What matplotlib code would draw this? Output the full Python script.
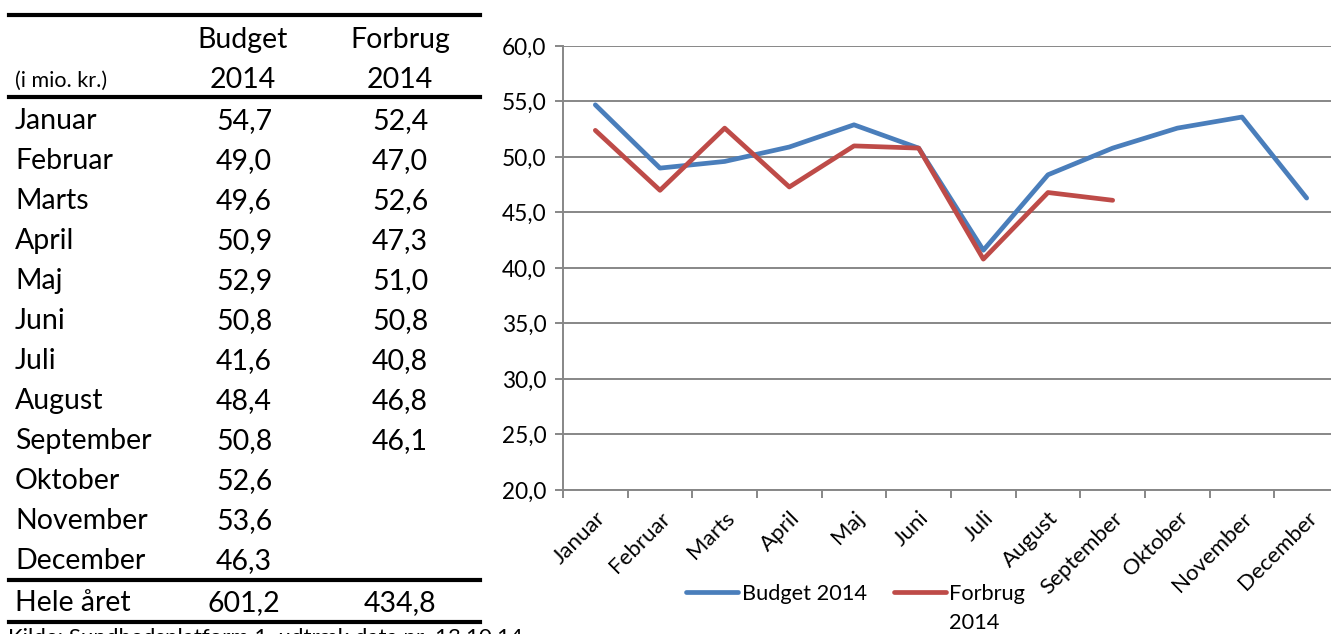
import matplotlib
matplotlib.use("Agg")
import matplotlib.pyplot as plt
from matplotlib.lines import Line2D

plt.rcParams["font.family"] = ["Lato", "DejaVu Sans"]

months = ["Januar", "Februar", "Marts", "April", "Maj", "Juni", "Juli",
          "August", "September", "Oktober", "November", "December"]
budget = [54.7, 49.0, 49.6, 50.9, 52.9, 50.8, 41.6, 48.4, 50.8, 52.6, 53.6, 46.3]
forbrug = [52.4, 47.0, 52.6, 47.3, 51.0, 50.8, 40.8, 46.8, 46.1]
total_budget = 601.2
total_forbrug = 434.8
yticks = [20, 25, 30, 35, 40, 45, 50, 55, 60]

W, H = 1331, 634
BLUE = "#4A7EBB"
RED = "#BE4B48"
GRID = "#878787"


def fx(px):
    return px / W


def fy(py):
    return 1 - py / H


def fmt(v):
    return f"{v:.1f}".replace(".", ",")


fig = plt.figure(figsize=(W / 100, H / 100), dpi=100)

# --- table on the left ---
for py in (15, 97, 580, 622):
    fig.add_artist(Line2D([fx(9), fx(480)], [fy(py), fy(py)], color="black", linewidth=3.0))

fs = 20.5
fig.text(fx(243), fy(40), "Budget", ha="center", va="center", fontsize=fs)
fig.text(fx(243), fy(80), "2014", ha="center", va="center", fontsize=fs)
fig.text(fx(400), fy(40), "Forbrug", ha="center", va="center", fontsize=fs)
fig.text(fx(400), fy(80), "2014", ha="center", va="center", fontsize=fs)
fig.text(fx(15), fy(81), "(i mio. kr.)", ha="left", va="center", fontsize=15.5)

for i, m in enumerate(months):
    py = 121 + i * 40
    fig.text(fx(15), fy(py), m, ha="left", va="center", fontsize=fs)
    fig.text(fx(244), fy(py), fmt(budget[i]), ha="center", va="center", fontsize=fs)
    if i < len(forbrug):
        fig.text(fx(400), fy(py), fmt(forbrug[i]), ha="center", va="center", fontsize=fs)

fig.text(fx(15), fy(603), "Hele året", ha="left", va="center", fontsize=fs)
fig.text(fx(244), fy(603), fmt(total_budget), ha="center", va="center", fontsize=fs)
fig.text(fx(400), fy(603), fmt(total_forbrug), ha="center", va="center", fontsize=fs)
# source line, cut off by the bottom edge as in the original
fig.text(fx(8), fy(628), "Kilde: Sundhedsplatform 1. udtræk data pr. 13.10.14",
         ha="left", va="top", fontsize=16)

# --- line chart on the right ---
ax = fig.add_axes([fx(563), fy(490), fx(1339) - fx(563), fy(46) - fy(490)])
x = list(range(len(months)))
lb, = ax.plot(x, budget, color=BLUE, linewidth=3.4, solid_capstyle="round", label="Budget 2014")
lf, = ax.plot(x[:len(forbrug)], forbrug, color=RED, linewidth=3.4, solid_capstyle="round",
              label="Forbrug")

ax.set_xlim(-0.5, len(months) - 0.5)
ax.set_ylim(20, 60)
ax.set_yticks(yticks)
ax.set_yticklabels([fmt(v) for v in yticks], fontsize=16.3)
ax.yaxis.grid(True, color=GRID, linewidth=1.4)
ax.set_axisbelow(True)

ax.set_xticks([i - 0.5 for i in range(len(months) + 1)])
ax.set_xticklabels([])
ax.set_xticks(x, minor=True)
ax.set_xticklabels(months, minor=True, rotation=45, ha="right", rotation_mode="anchor", fontsize=16)
ax.tick_params(axis="x", which="minor", length=0, pad=13)
ax.tick_params(axis="x", which="major", length=6, width=1.4, color=GRID, direction="out")
ax.tick_params(axis="y", length=6, width=1.4, color=GRID, direction="out", pad=6)

for s in ("top", "right"):
    ax.spines[s].set_visible(False)
for s in ("left", "bottom"):
    ax.spines[s].set_color(GRID)
    ax.spines[s].set_linewidth(1.4)

leg = fig.legend(handles=[lb, lf], loc="center left", bbox_to_anchor=(fx(686), fy(594)),
                 ncol=2, frameon=False, fontsize=15.7, handlelength=2.4, handletextpad=0.15,
                 columnspacing=1.25, borderpad=0, borderaxespad=0)

# the second legend label wraps onto a new line in the original
fig.canvas.draw()
bb = leg.get_texts()[1].get_window_extent()
fig.text(bb.x0 / W, fy(623), "2014", ha="left", va="center", fontsize=15.7)

fig.savefig("out.png", dpi=100, facecolor="white")
